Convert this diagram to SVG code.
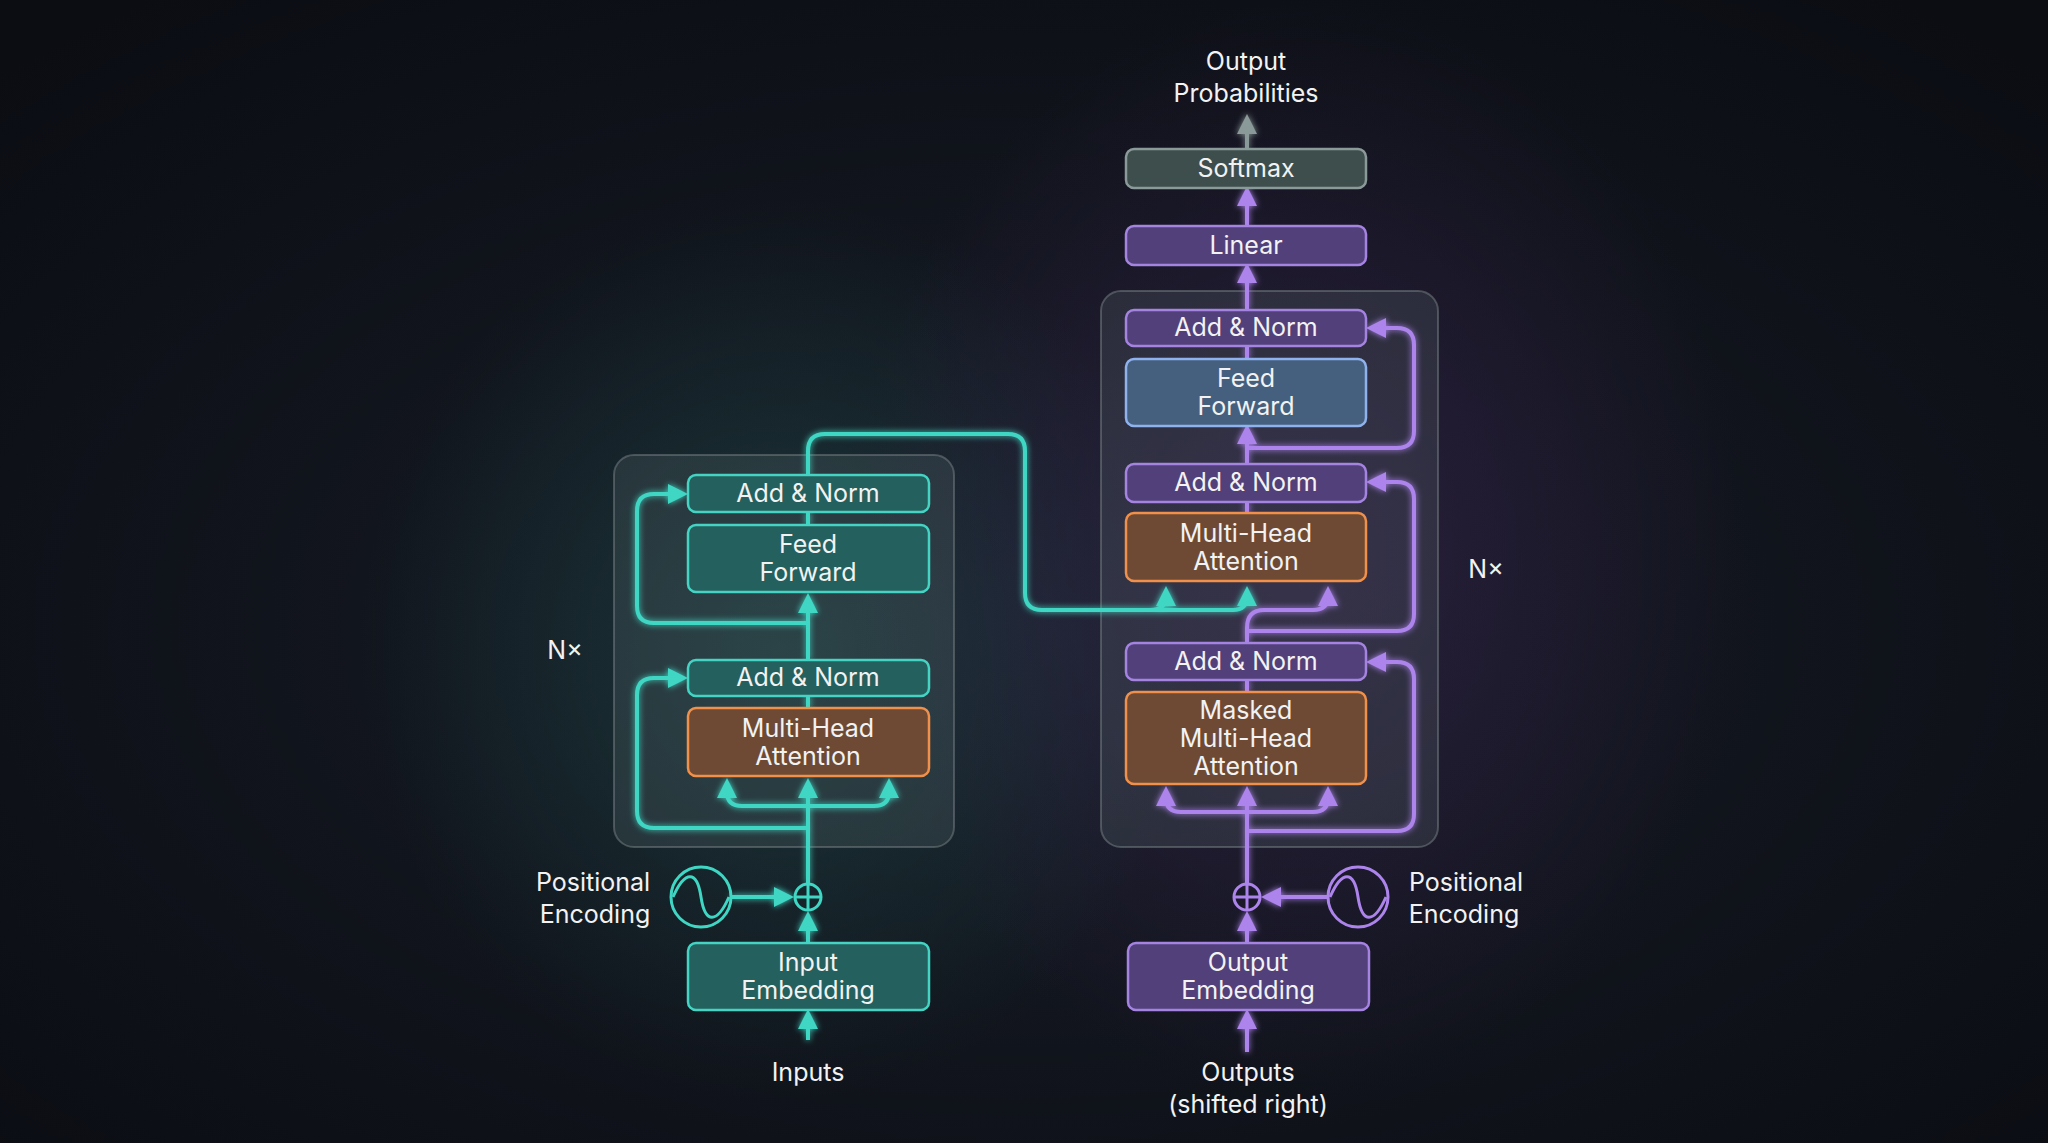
<svg xmlns="http://www.w3.org/2000/svg" width="2048" height="1143" viewBox="0 0 2048 1143">
<defs>
<radialGradient id="bg" cx="50%" cy="55%" r="70%"><stop offset="0" stop-color="#171c26"/><stop offset="1" stop-color="#0b0d13"/></radialGradient>
<radialGradient id="gt" cx="0.5" cy="0.5" r="0.5"><stop offset="0" stop-color="#1f4a4a" stop-opacity="0.6"/><stop offset="1" stop-color="#1f4a4a" stop-opacity="0"/></radialGradient>
<radialGradient id="gp" cx="0.5" cy="0.5" r="0.5"><stop offset="0" stop-color="#3a2452" stop-opacity="0.6"/><stop offset="1" stop-color="#3a2452" stop-opacity="0"/></radialGradient>
<marker id="at" viewBox="0 0 10 10" refX="8" refY="5" markerWidth="5" markerHeight="5" orient="auto-start-reverse"><path d="M0,0L10,5L0,10z" fill="#3fd6c4"/></marker>
<marker id="ap" viewBox="0 0 10 10" refX="8" refY="5" markerWidth="5" markerHeight="5" orient="auto-start-reverse"><path d="M0,0L10,5L0,10z" fill="#ad84ec"/></marker>
<marker id="ag" viewBox="0 0 10 10" refX="8" refY="5" markerWidth="5" markerHeight="5" orient="auto-start-reverse"><path d="M0,0L10,5L0,10z" fill="#8a9a98"/></marker>
<filter id="glow" x="-20%" y="-20%" width="140%" height="140%"><feGaussianBlur stdDeviation="3" result="b"/><feMerge><feMergeNode in="b"/><feMergeNode in="SourceGraphic"/></feMerge></filter>
</defs>
<style>
text{font-family:Inter,"Noto Sans","Liberation Sans",sans-serif;fill:#f2f2f2;font-size:25px;text-anchor:middle}
.tb{fill:#24605d;stroke:#45d3c3;stroke-width:2.5}
.pb{fill:#51407a;stroke:#a583e0;stroke-width:2.5}
.ob{fill:#6e4a35;stroke:#f0904a;stroke-width:2.5}
.bb{fill:#45607f;stroke:#8fb2ee;stroke-width:2.5}
.gb{fill:#3e4e4c;stroke:#8a9a98;stroke-width:2.5}
.ct{fill:#5a6a70;fill-opacity:0.25;stroke:#6b7478;stroke-opacity:0.6;stroke-width:2}
.lt{fill:none;stroke:#3fd6c4;stroke-width:4}
.lp{fill:none;stroke:#ad84ec;stroke-width:4}
</style>
<rect width="2048" height="1143" fill="url(#bg)"/>
<ellipse cx="780" cy="650" rx="420" ry="450" fill="url(#gt)"/>
<ellipse cx="1300" cy="550" rx="450" ry="550" fill="url(#gp)"/>

<rect class="ct" x="614" y="455" width="340" height="392" rx="20"/>
<rect class="ct" x="1101" y="291" width="337" height="556" rx="20"/>

<g id="connectors" filter="url(#glow)">
<path class="lt" d="M808,943 V915" marker-end="url(#at)"/>
<path class="lt" d="M808,883 V782" marker-end="url(#at)"/>
<path class="lt" d="M808,806 H742 Q727,806 727,792 V782" marker-end="url(#at)"/>
<path class="lt" d="M808,806 H874 Q889,806 889,792 V782" marker-end="url(#at)"/>
<path class="lt" d="M808,828 H654 Q637,828 637,811 V695 Q637,678 654,678 H684" marker-end="url(#at)"/>
<path class="lt" d="M808,708 V696"/>
<path class="lt" d="M808,660 V597" marker-end="url(#at)"/>
<path class="lt" d="M808,623 H654 Q637,623 637,606 V511 Q637,494 654,494 H684" marker-end="url(#at)"/>
<path class="lt" d="M808,525 V512"/>
<path class="lt" d="M808,475 V451 Q808,434 825,434 H1008 Q1025,434 1025,451 V593 Q1025,610 1042,610 H1233 Q1247,610 1247,596 V590" marker-end="url(#at)"/>
<path class="lt" d="M1150,610 Q1166,610 1166,596 V590" marker-end="url(#at)"/>
<path class="lt" d="M731,897 H790" marker-end="url(#at)"/>
<path class="lp" d="M1247,943 V915" marker-end="url(#ap)"/>
<path class="lp" d="M1328,897 H1265" marker-end="url(#ap)"/>
<path class="lp" d="M1247,883 V790" marker-end="url(#ap)"/>
<path class="lp" d="M1247,812 H1181 Q1166,812 1166,798 V790" marker-end="url(#ap)"/>
<path class="lp" d="M1247,812 H1313 Q1328,812 1328,798 V790" marker-end="url(#ap)"/>
<path class="lp" d="M1247,831 H1397 Q1414,831 1414,814 V679 Q1414,662 1397,662 H1370" marker-end="url(#ap)"/>
<path class="lp" d="M1247,692 V680"/>
<path class="lp" d="M1247,643 V631 H1397 Q1414,631 1414,614 V499 Q1414,482 1397,482 H1370" marker-end="url(#ap)"/>
<path class="lp" d="M1247,643 V628 Q1247,610 1264,610 H1313 Q1328,610 1328,596 V590" marker-end="url(#ap)"/>
<path class="lp" d="M1247,513 V502"/>
<path class="lp" d="M1247,464 V428" marker-end="url(#ap)"/>
<path class="lp" d="M1247,448 H1397 Q1414,448 1414,431 V345 Q1414,328 1397,328 H1370" marker-end="url(#ap)"/>
<path class="lp" d="M1247,359 V346"/>
<path class="lp" d="M1247,310 V267" marker-end="url(#ap)"/>
<path class="lp" d="M1247,226 V190" marker-end="url(#ap)"/>
<path d="M1247,149 V118" fill="none" stroke="#8a9a98" stroke-width="4" marker-end="url(#ag)"/>
<path class="lt" d="M808,1040 V1013" marker-end="url(#at)"/>
<path class="lp" d="M1247,1052 V1013" marker-end="url(#ap)"/>
</g>

<g id="enc-addnorm2"><rect class="tb" x="688" y="475" width="241" height="37" rx="8"/><text x="808" y="502">Add &amp; Norm</text></g>
<g id="enc-ff"><rect class="tb" x="688" y="525" width="241" height="67" rx="8"/><text x="808" y="553">Feed</text><text x="808" y="581">Forward</text></g>
<g id="enc-addnorm1"><rect class="tb" x="688" y="660" width="241" height="36" rx="8"/><text x="808" y="686">Add &amp; Norm</text></g>
<g id="enc-mha"><rect class="ob" x="688" y="708" width="241" height="68" rx="8"/><text x="808" y="737">Multi-Head</text><text x="808" y="765">Attention</text></g>
<g id="enc-embed"><rect class="tb" x="688" y="943" width="241" height="67" rx="8"/><text x="808" y="971">Input</text><text x="808" y="999">Embedding</text></g>
<g id="enc-plus" fill="none" stroke="#3fd6c4" stroke-width="3"><circle cx="808" cy="897" r="13"/><path d="M795,897H821M808,884V910"/></g>
<g id="enc-pe" fill="none" stroke="#3fd6c4" stroke-width="3"><circle cx="701" cy="897" r="30"/><path d="M673,897 C685,870 697,870 701,897 C705,924 717,924 729,897"/></g>
<g id="enc-labels"><text x="593" y="891">Positional</text><text x="595" y="923">Encoding</text><text x="808" y="1081">Inputs</text><text x="565" y="659">N×</text></g>

<g id="dec-addnorm3"><rect class="pb" x="1126" y="310" width="240" height="36" rx="8"/><text x="1246" y="336">Add &amp; Norm</text></g>
<g id="dec-ff"><rect class="bb" x="1126" y="359" width="240" height="67" rx="8"/><text x="1246" y="387">Feed</text><text x="1246" y="415">Forward</text></g>
<g id="dec-addnorm2"><rect class="pb" x="1126" y="464" width="240" height="38" rx="8"/><text x="1246" y="491">Add &amp; Norm</text></g>
<g id="dec-mha"><rect class="ob" x="1126" y="513" width="240" height="68" rx="8"/><text x="1246" y="542">Multi-Head</text><text x="1246" y="570">Attention</text></g>
<g id="dec-addnorm1"><rect class="pb" x="1126" y="643" width="240" height="37" rx="8"/><text x="1246" y="670">Add &amp; Norm</text></g>
<g id="dec-mmha"><rect class="ob" x="1126" y="692" width="240" height="92" rx="8"/><text x="1246" y="719">Masked</text><text x="1246" y="747">Multi-Head</text><text x="1246" y="775">Attention</text></g>
<g id="dec-embed"><rect class="pb" x="1128" y="943" width="241" height="67" rx="8"/><text x="1248" y="971">Output</text><text x="1248" y="999">Embedding</text></g>
<g id="linear"><rect class="pb" x="1126" y="226" width="240" height="39" rx="8"/><text x="1246" y="254">Linear</text></g>
<g id="softmax"><rect class="gb" x="1126" y="149" width="240" height="39" rx="8"/><text x="1246" y="177">Softmax</text></g>
<g id="dec-plus" fill="none" stroke="#ad84ec" stroke-width="3"><circle cx="1247" cy="897" r="13"/><path d="M1234,897H1260M1247,884V910"/></g>
<g id="dec-pe" fill="none" stroke="#ad84ec" stroke-width="3"><circle cx="1358" cy="897" r="30"/><path d="M1330,897 C1342,870 1354,870 1358,897 C1362,924 1374,924 1386,897"/></g>
<g id="dec-labels"><text x="1466" y="891">Positional</text><text x="1464" y="923">Encoding</text><text x="1248" y="1081">Outputs</text><text x="1248" y="1113">(shifted right)</text><text x="1246" y="70">Output</text><text x="1246" y="102">Probabilities</text><text x="1486" y="578">N×</text></g>
</svg>
